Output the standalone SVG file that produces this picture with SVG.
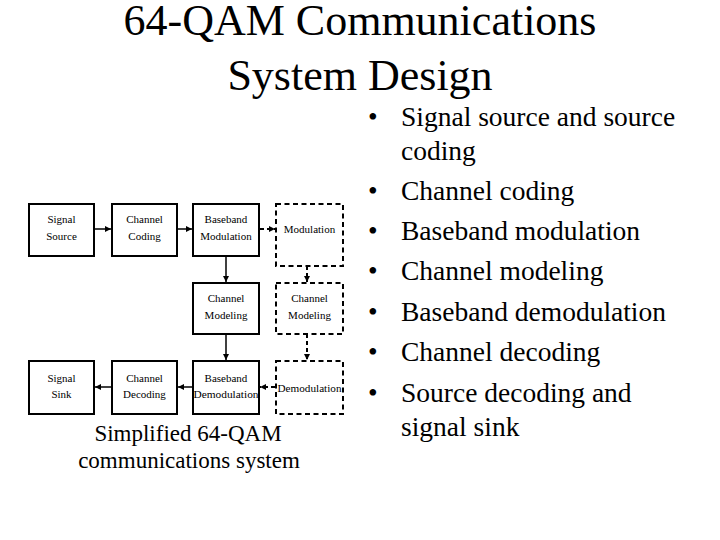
<svg xmlns="http://www.w3.org/2000/svg" width="720" height="540" viewBox="0 0 720 540">
<defs>
<style>
text{font-family:'Liberation Serif','Times New Roman',Times,serif;fill:#000}
.title{font-size:44px;text-anchor:middle}
.bul{font-size:27.5px}
.cap{font-size:23px;text-anchor:middle}
.bx{font-size:11px;text-anchor:middle}
.box{fill:#fff;stroke:#000;stroke-width:2}
.dbox{fill:#fff;stroke:#000;stroke-width:2;stroke-dasharray:5,3.5}
.ln{stroke:#000;stroke-width:1.5;fill:none;marker-end:url(#ah)}
.dl{stroke:#000;stroke-width:2;fill:none;stroke-dasharray:4,3;marker-end:url(#ah)}
</style>
<marker id="ah" viewBox="0 0 10 10" refX="10" refY="5" markerWidth="6" markerHeight="6" markerUnits="userSpaceOnUse" orient="auto">
<path d="M0,0 L10,5 L0,10 z" fill="#000"/>
</marker>
</defs>
<rect width="720" height="540" fill="#fff"/>
<g id="title">
<text class="title" x="360" y="35">64-QAM Communications</text>
<text class="title" x="360" y="90">System Design</text>
</g>
<g id="connectors">
<line class="ln" x1="94" y1="229" x2="111" y2="229"/>
<line class="ln" x1="177" y1="229" x2="192" y2="229"/>
<line class="dl" x1="260" y1="229" x2="275" y2="229"/>
<line class="ln" x1="226" y1="256" x2="226" y2="282"/>
<line class="dl" x1="307" y1="266" x2="307" y2="282"/>
<line class="ln" x1="226" y1="334" x2="226" y2="360"/>
<line class="dl" x1="307" y1="334" x2="307" y2="360"/>
<line class="dl" x1="275" y1="387" x2="260" y2="387"/>
<line class="ln" x1="193" y1="387" x2="178" y2="387"/>
<line class="ln" x1="112" y1="387" x2="95" y2="387"/>
</g>
<g id="signal-source">
<rect class="box" x="29" y="204" width="65" height="52"/>
<text class="bx" x="61.5" y="223">Signal</text>
<text class="bx" x="61.5" y="240">Source</text>
</g>
<g id="channel-coding">
<rect class="box" x="112" y="204" width="65" height="52"/>
<text class="bx" x="144.5" y="223">Channel</text>
<text class="bx" x="144.5" y="240">Coding</text>
</g>
<g id="baseband-modulation">
<rect class="box" x="193" y="204" width="66" height="52"/>
<text class="bx" x="226" y="223">Baseband</text>
<text class="bx" x="226" y="240">Modulation</text>
</g>
<g id="modulation">
<rect class="dbox" x="276" y="204" width="67" height="62"/>
<text class="bx" x="309.5" y="233">Modulation</text>
</g>
<g id="channel-modeling">
<rect class="box" x="193" y="283" width="66" height="51"/>
<text class="bx" x="226" y="302">Channel</text>
<text class="bx" x="226" y="319">Modeling</text>
</g>
<g id="channel-modeling-2">
<rect class="dbox" x="276" y="283" width="67" height="51"/>
<text class="bx" x="309.5" y="302">Channel</text>
<text class="bx" x="309.5" y="319">Modeling</text>
</g>
<g id="signal-sink">
<rect class="box" x="29" y="361" width="65" height="53"/>
<text class="bx" x="61.5" y="382">Signal</text>
<text class="bx" x="61.5" y="398">Sink</text>
</g>
<g id="channel-decoding">
<rect class="box" x="112" y="361" width="65" height="53"/>
<text class="bx" x="144.5" y="382">Channel</text>
<text class="bx" x="144.5" y="398">Decoding</text>
</g>
<g id="baseband-demodulation">
<rect class="box" x="193" y="361" width="66" height="53"/>
<text class="bx" x="226" y="382">Baseband</text>
<text class="bx" x="226" y="398" textLength="65" lengthAdjust="spacingAndGlyphs">Demodulation</text>
</g>
<g id="demodulation">
<rect class="dbox" x="276" y="361" width="67" height="53"/>
<text class="bx" x="309.5" y="392" textLength="64" lengthAdjust="spacingAndGlyphs">Demodulation</text>
</g>
<g id="caption">
<text class="cap" x="188" y="441">Simplified 64-QAM</text>
<text class="cap" x="189" y="468">communications system</text>
</g>
<g id="bullets">
<text class="bul" x="368" y="126">•</text><text class="bul" x="401" y="126">Signal source and source</text>
<text class="bul" x="401" y="160">coding</text>
<text class="bul" x="368" y="200">•</text><text class="bul" x="401" y="200">Channel coding</text>
<text class="bul" x="368" y="240">•</text><text class="bul" x="401" y="240">Baseband modulation</text>
<text class="bul" x="368" y="280">•</text><text class="bul" x="401" y="280">Channel modeling</text>
<text class="bul" x="368" y="321">•</text><text class="bul" x="401" y="321">Baseband demodulation</text>
<text class="bul" x="368" y="361">•</text><text class="bul" x="401" y="361">Channel decoding</text>
<text class="bul" x="368" y="402">•</text><text class="bul" x="401" y="402">Source decoding and</text>
<text class="bul" x="401" y="436">signal sink</text>
</g>
</svg>
